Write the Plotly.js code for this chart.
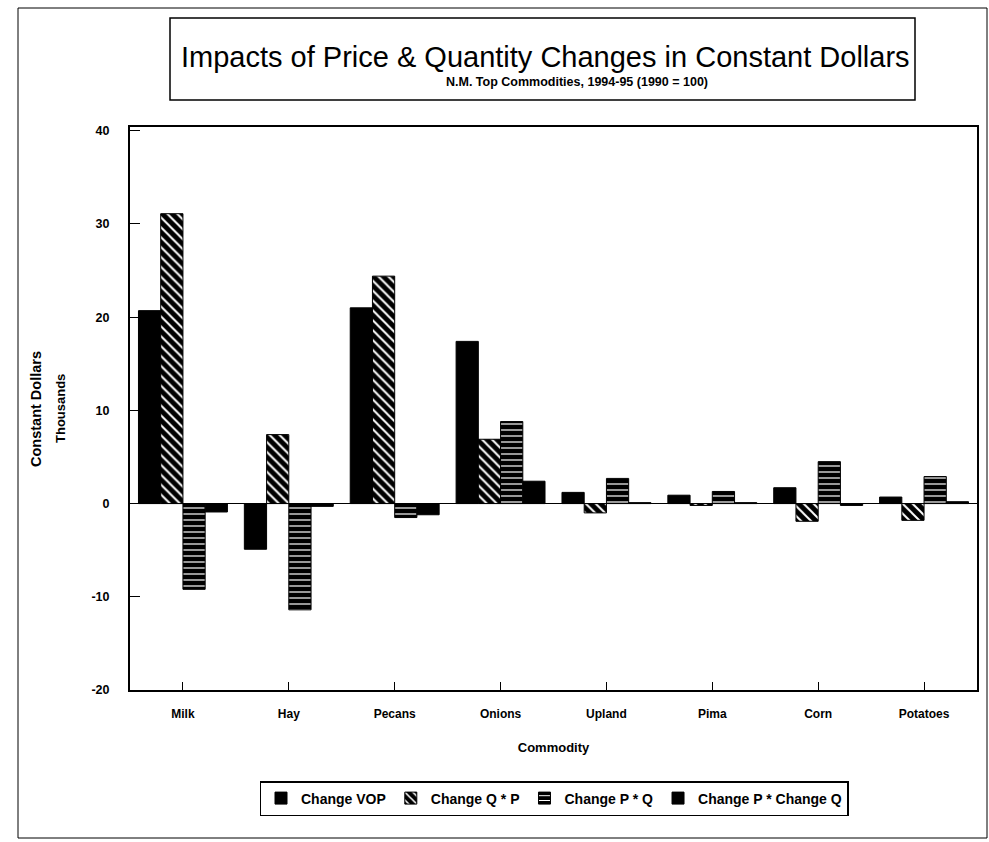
<!DOCTYPE html>
<html>
<head>
<meta charset="utf-8">
<script src="https://cdn.plot.ly/plotly-3.0.1.min.js"></script>
<style>html,body{margin:0;padding:0;background:#fff;}#chart{width:989px;height:842px;}</style>
</head>
<body>
<div id="chart"></div>
<script>
const commodities = ["Milk", "Hay", "Pecans", "Onions", "Upland", "Pima", "Corn", "Potatoes"];
const changeVOP   = [20.7, -4.9, 21.0, 17.4, 1.2, 0.9, 1.7, 0.7];
const changeQP    = [31.1, 7.4, 24.4, 6.9, -1.0, -0.2, -1.9, -1.8];
const changePQ    = [-9.2, -11.4, -1.5, 8.8, 2.7, 1.3, 4.5, 2.9];
const changePchQ  = [-0.9, -0.3, -1.2, 2.4, 0.1, 0.1, -0.2, 0.2];
const seriesNames = ["Change VOP", "Change Q * P", "Change P * Q", "Change P * Change Q"];
const yTicks = [-20, -10, 0, 10, 20, 30, 40];

const FAM = "Liberation Sans, Arial, sans-serif";
const line = {color: "#000", width: 1};

const traces = [
  {type: "bar", name: seriesNames[0], x: commodities, y: changeVOP,
   marker: {color: "#000", line: line}},
  {type: "bar", name: seriesNames[1], x: commodities, y: changeQP,
   marker: {color: "#000", line: line, pattern: {shape: "\\", fgcolor: "#fff", bgcolor: "#000", size: 7, solidity: 0.28}}},
  {type: "bar", name: seriesNames[2], x: commodities, y: changePQ,
   marker: {color: "#000", line: line, pattern: {shape: "-", fgcolor: "#fff", bgcolor: "#000", size: 6, solidity: 0.2}}},
  {type: "bar", name: seriesNames[3], x: commodities, y: changePchQ,
   marker: {color: "#000", line: line}}
];

const pxX = p => (p - 130) / 847;
const pxY = p => (690 - p) / 563;

const layout = {
  width: 989, height: 842,
  margin: {l: 130, r: 12, t: 127, b: 152},
  paper_bgcolor: "#fff", plot_bgcolor: "#fff",
  barmode: "group", bargap: 0.16, bargroupgap: 0,
  showlegend: true,
  font: {family: FAM, color: "#000"},
  xaxis: {
    type: "category", showline: true, linecolor: "#000", linewidth: 2, mirror: true,
    ticks: "inside", ticklen: 8, tickcolor: "#000", tickwidth: 1,
    ticklabelstandoff: 12,
    tickfont: {family: FAM, size: 12, color: "#000", weight: 700},
    title: {text: "Commodity", font: {family: FAM, size: 13, color: "#000", weight: 700}, standoff: 22},
    showgrid: false, fixedrange: true
  },
  yaxis: {
    range: [-20, 40.4], tickvals: yTicks, ticktext: yTicks.map(String),
    showline: true, linecolor: "#000", linewidth: 2, mirror: true,
    ticks: "inside", ticklen: 10, tickcolor: "#000", tickwidth: 1,
    ticklabelstandoff: 16,
    tickfont: {family: FAM, size: 12.5, color: "#000", weight: 700},
    showgrid: false, zeroline: true, zerolinecolor: "#000", zerolinewidth: 1.5,
    fixedrange: true
  },
  legend: {
    orientation: "h", x: pxX(554), xanchor: "center", y: pxY(781), yanchor: "top",
    bordercolor: "#000", borderwidth: 1.5, bgcolor: "#fff",
    font: {family: FAM, size: 14, color: "#000", weight: 700},
    itemwidth: 30, traceorder: "normal"
  },
  shapes: [
    {type: "rect", xref: "paper", yref: "paper", x0: pxX(170), x1: pxX(915), y0: pxY(100), y1: pxY(18),
     line: {color: "#000", width: 1.5}},
    {type: "rect", xref: "paper", yref: "paper", x0: pxX(18), x1: pxX(987), y0: pxY(838), y1: pxY(8),
     line: {color: "#000", width: 1}}
  ],
  annotations: [
    {xref: "paper", yref: "paper", x: pxX(545), y: pxY(57), xanchor: "center", yanchor: "middle", showarrow: false,
     text: "Impacts of Price &amp; Quantity Changes in Constant Dollars",
     font: {family: FAM, size: 29, color: "#000"}},
    {xref: "paper", yref: "paper", x: pxX(577), y: pxY(82), xanchor: "center", yanchor: "middle", showarrow: false,
     text: "N.M. Top Commodities, 1994-95 (1990 = 100)",
     font: {family: FAM, size: 12.5, color: "#000", weight: 700}},
    {xref: "paper", yref: "paper", x: pxX(36), y: pxY(409), xanchor: "center", yanchor: "middle", showarrow: false,
     textangle: -90, text: "Constant Dollars",
     font: {family: FAM, size: 14.5, color: "#000", weight: 700}},
    {xref: "paper", yref: "paper", x: pxX(60), y: pxY(409), xanchor: "center", yanchor: "middle", showarrow: false,
     textangle: -90, text: "Thousands",
     font: {family: FAM, size: 13, color: "#000", weight: 700}}
  ]
};

Plotly.newPlot("chart", traces, layout, {displayModeBar: false, staticPlot: true});
</script>
</body>
</html>
